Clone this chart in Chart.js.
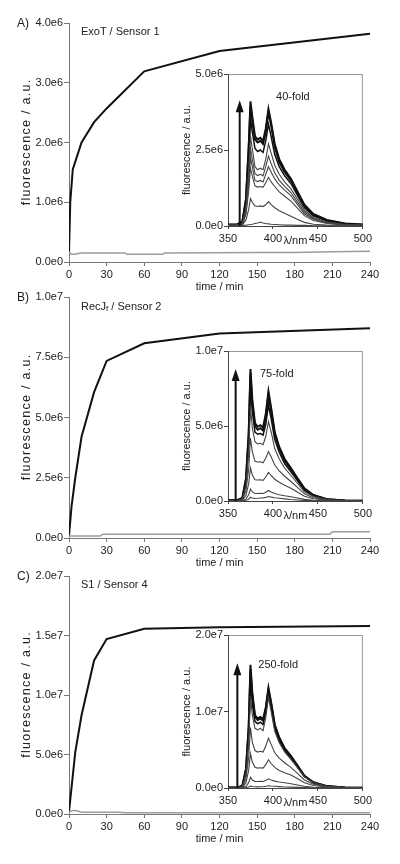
<!DOCTYPE html>
<html>
<head>
<meta charset="utf-8">
<script src="https://cdn.jsdelivr.net/npm/chart.js@4.4.1/dist/chart.umd.min.js"></script>
<style>
  body { margin: 0; background: #fff; }
  #page { position: relative; width: 400px; height: 864px; overflow: hidden;
          font-family: 'Liberation Sans', Arial, Helvetica, sans-serif; color: #222; }
  canvas { position: absolute; }
  .lbl { position: absolute; font-size: 12px; line-height: 14px; white-space: nowrap; }
  .ttl { position: absolute; font-size: 11px; line-height: 13px; white-space: nowrap; }
  .sub { font-size: 8px; vertical-align: -1px; }
</style>
</head>
<body>
<div id="page">
  <canvas id="mainA" width="400" height="291" style="left:0;top:3px"></canvas>
  <canvas id="mainB" width="400" height="293" style="left:0;top:277px"></canvas>
  <canvas id="mainC" width="400" height="290" style="left:0;top:556px"></canvas>
  <canvas id="insetA" width="215" height="192" style="left:160px;top:62px"></canvas>
  <canvas id="insetB" width="215" height="190" style="left:160px;top:339px"></canvas>
  <canvas id="insetC" width="215" height="193" style="left:160px;top:623px"></canvas>

  <div class="lbl" style="left:17px;top:16px">A)</div>
  <div class="ttl" style="left:81px;top:25px">ExoT / Sensor 1</div>
  <div class="lbl" style="left:17px;top:290px">B)</div>
  <div class="ttl" style="left:81px;top:300px">RecJ<span class="sub">f</span> / Sensor 2</div>
  <div class="lbl" style="left:17px;top:569px">C)</div>
  <div class="ttl" style="left:81px;top:578px">S1 / Sensor 4</div>
</div>

<script>
// all fluorescence values are in units of 1e6 a.u.

const timeTicks = [0, 30, 60, 90, 120, 150, 180, 210, 240];
const wlTicks = [350, 400, 450, 500];

// --- main kinetics ---
const timeA = [0, 1, 3, 10, 20, 30, 60, 120, 240];
const exoT = [0.15, 1.0, 1.55, 2.0, 2.34, 2.57, 3.19, 3.53, 3.82];
const ctrlTimeA = [0, 2, 4, 10, 45, 46, 75, 76, 150, 180, 210, 240];
const ctrlA = [0.17, 0.13, 0.13, 0.15, 0.15, 0.13, 0.13, 0.15, 0.16, 0.16, 0.17, 0.18];
const ticksA = [0, 1, 2, 3, 4];

const timeB = [0, 2, 5, 10, 20, 30, 60, 120, 240];
const recJ = [0.1, 1.3, 2.5, 4.2, 6.05, 7.35, 8.08, 8.49, 8.7];
const ctrlTimeB = [0, 25, 27, 208, 210, 240];
const ctrlB = [0.08, 0.08, 0.16, 0.16, 0.26, 0.26];
const ticksB = [0, 2.5, 5, 7.5, 10];

const timeC = [0, 5, 10, 20, 30, 60, 120, 240];
const s1 = [0.2, 5.2, 8.3, 12.9, 14.7, 15.57, 15.7, 15.8];
const ctrlTimeC = [0, 3, 6, 10, 40, 45, 240];
const ctrlC = [0.15, 0.3, 0.28, 0.15, 0.15, 0.1, 0.1];
const ticksC = [0, 5, 10, 15, 20];

// --- emission spectra (insets), top curve first ---
const wavelength = [350, 360, 366, 370, 373, 375, 377, 380, 383, 386, 389, 392,
                    395, 398, 402, 407, 413, 420, 427, 435, 445, 460, 480, 500];

const spectraA = [
  [0.05,0.05,0.15,0.9,2.6,4.1,3.6,2.95,2.85,2.9,2.8,3.2,3.85,3.4,2.7,2.2,1.85,1.55,1.15,0.7,0.4,0.2,0.08,0.05],
  [0.04,0.04,0.12,0.85,2.5,3.95,3.5,2.85,2.75,2.8,2.7,3.1,3.75,3.3,2.6,2.1,1.78,1.5,1.1,0.66,0.37,0.18,0.07,0.04],
  [0.03,0.03,0.1,0.75,2.2,3.55,3.1,2.55,2.45,2.5,2.42,2.8,3.35,2.95,2.35,1.95,1.65,1.4,1.02,0.6,0.33,0.16,0.06,0.03],
  [0.03,0.03,0.08,0.6,1.8,2.95,2.55,1.95,1.85,1.9,1.85,2.2,2.7,2.4,2.0,1.7,1.45,1.22,0.9,0.52,0.28,0.13,0.05,0.03],
  [0.02,0.02,0.07,0.5,1.55,2.55,2.2,1.72,1.66,1.7,1.65,1.95,2.3,2.05,1.75,1.5,1.3,1.1,0.8,0.46,0.25,0.11,0.04,0.02],
  [0.02,0.02,0.06,0.45,1.35,2.25,1.95,1.5,1.46,1.5,1.45,1.7,1.95,1.78,1.55,1.35,1.18,1.0,0.72,0.4,0.22,0.1,0.04,0.02],
  [0.02,0.02,0.05,0.38,1.15,1.9,1.65,1.32,1.28,1.3,1.27,1.42,1.6,1.45,1.3,1.12,0.98,0.82,0.6,0.34,0.18,0.08,0.03,0.02],
  [0.01,0.01,0.03,0.2,0.55,0.9,0.78,0.66,0.64,0.66,0.64,0.7,0.8,0.7,0.6,0.5,0.42,0.32,0.22,0.12,0.06,0.03,0.02,0.01],
  [0.01,0.01,0.02,0.03,0.04,0.05,0.06,0.08,0.1,0.13,0.1,0.08,0.07,0.06,0.05,0.04,0.03,0.03,0.02,0.02,0.01,0.01,0.01,0.01]
];
const spectraB = [
  [0.05,0.05,0.2,1.5,4.5,8.8,6.8,5.2,4.95,5.05,4.9,5.8,7.3,6.2,4.6,3.6,2.8,2.2,1.55,0.85,0.4,0.12,0.04,0.02],
  [0.04,0.04,0.18,1.4,4.3,8.5,6.5,5.0,4.75,4.85,4.7,5.6,7.1,6.0,4.45,3.5,2.7,2.12,1.5,0.8,0.38,0.11,0.04,0.02],
  [0.04,0.04,0.16,1.25,3.9,7.8,6.0,4.6,4.45,4.5,4.4,5.1,6.4,5.5,4.1,3.25,2.5,1.95,1.38,0.72,0.34,0.1,0.03,0.02],
  [0.03,0.03,0.13,1.0,3.2,6.3,4.9,3.95,3.8,3.85,3.75,4.3,5.3,4.6,3.5,2.8,2.2,1.7,1.2,0.62,0.3,0.09,0.03,0.02],
  [0.02,0.02,0.09,0.7,2.1,4.2,3.3,2.65,2.6,2.62,2.55,2.85,3.3,2.95,2.4,2.0,1.65,1.3,0.92,0.48,0.22,0.07,0.02,0.01],
  [0.02,0.02,0.05,0.38,1.15,2.2,1.75,1.42,1.4,1.42,1.38,1.6,1.9,1.7,1.45,1.25,1.05,0.85,0.6,0.32,0.15,0.05,0.02,0.01],
  [0.01,0.01,0.02,0.14,0.42,0.8,0.62,0.5,0.5,0.52,0.5,0.58,0.7,0.6,0.5,0.42,0.35,0.28,0.2,0.11,0.05,0.02,0.01,0.01],
  [0.01,0.01,0.01,0.05,0.12,0.25,0.2,0.17,0.18,0.2,0.2,0.24,0.3,0.26,0.22,0.18,0.14,0.1,0.07,0.04,0.02,0.01,0.01,0.01]
];
const spectraC = [
  [0.05,0.05,0.3,2.5,8.0,16.1,12.5,9.5,9.1,9.3,9.0,10.5,13.1,11.2,8.3,6.6,5.2,4.2,3.0,1.6,0.75,0.25,0.08,0.04],
  [0.05,0.05,0.28,2.4,7.7,15.5,12.1,9.3,8.9,9.1,8.8,10.3,12.8,11.0,8.1,6.5,5.1,4.1,2.9,1.55,0.72,0.24,0.08,0.04],
  [0.04,0.04,0.25,2.1,7.0,14.0,11.0,8.7,8.4,8.6,8.3,9.9,12.3,10.5,7.8,6.2,4.9,3.9,2.8,1.5,0.7,0.23,0.07,0.03],
  [0.04,0.04,0.2,1.8,6.0,12.0,9.6,7.8,7.6,7.8,7.5,9.2,11.8,10.0,7.4,5.9,4.7,3.75,2.7,1.45,0.68,0.22,0.07,0.03],
  [0.03,0.03,0.14,1.2,4.0,7.9,6.0,4.9,4.7,4.8,4.7,5.5,6.5,5.7,4.6,3.9,3.3,2.7,1.95,1.05,0.5,0.17,0.05,0.02],
  [0.02,0.02,0.08,0.7,2.3,4.5,3.4,2.7,2.6,2.65,2.6,3.05,3.7,3.2,2.7,2.3,2.0,1.7,1.25,0.68,0.32,0.11,0.03,0.02],
  [0.01,0.01,0.03,0.22,0.7,1.4,1.05,0.87,0.85,0.87,0.85,0.98,1.2,1.05,0.9,0.78,0.68,0.55,0.4,0.22,0.1,0.04,0.01,0.01],
  [0.01,0.01,0.01,0.05,0.12,0.25,0.2,0.16,0.15,0.17,0.17,0.22,0.3,0.26,0.22,0.18,0.14,0.11,0.08,0.05,0.02,0.01,0.01,0.01]
];
const insetTicksA = [0, 2.5, 5];
const insetTicksB = [0, 5, 10];
const insetTicksC = [0, 10, 20];


const FONT = "'Liberation Sans', Arial, Helvetica, sans-serif";
Chart.defaults.font.family = FONT;
Chart.defaults.font.size = 11;
Chart.defaults.color = '#222';
Chart.defaults.animation = false;

const sci = (v) => (v * 1e6).toExponential(1).replace('e+', 'e');

const pts = (xs, ys) => xs.map((x, i) => ({ x: x, y: ys[i] }));

const fixTicks = (list) => (scale) => {
    scale.ticks = list.map(v => ({ value: v }));
};

// stretched vertical title of the main panels
const sideTitle = {
    id: 'sideTitle',
    afterDraw(chart, args, opts) {
        const a = chart.chartArea, ctx = chart.ctx;
        ctx.save();
        ctx.translate(opts.x, (a.top + a.bottom) / 2);
        ctx.rotate(-Math.PI / 2);
        ctx.font = opts.size + 'px ' + FONT;
        ctx.letterSpacing = opts.spacing + 'px';
        ctx.textAlign = 'center';
        ctx.textBaseline = 'middle';
        ctx.fillStyle = '#222';
        ctx.fillText(opts.text, opts.spacing / 2, 0);
        ctx.restore();
    }
};

function mainChart(id, t1, v1, t2, v2, yTicks) {
    return new Chart(document.getElementById(id), {
        type: 'line',
        data: {
            datasets: [
                { data: pts(t2, v2), borderColor: '#9c9c9c', borderWidth: 1.5, pointRadius: 0 },
                { data: pts(t1, v1), borderColor: '#111', borderWidth: 2, pointRadius: 0 }
            ]
        },
        options: {
            responsive: false,
            devicePixelRatio: 1,
            layout: { padding: { top: 20, right: 30, left: 0, bottom: 0 } },
            plugins: {
                legend: { display: false },
                tooltip: { enabled: false },
                sideTitle: { text: 'fluorescence / a.u.', x: 26.5, size: 12.5, spacing: 1.3 }
            },
            scales: {
                x: {
                    type: 'linear', min: 0, max: 240,
                    afterBuildTicks: fixTicks(timeTicks),
                    afterFit: s => { s.height = 32; },
                    grid: { drawOnChartArea: false, tickLength: 4, color: '#777' },
                    border: { color: '#777' },
                    ticks: { padding: 2, maxRotation: 0 },
                    title: { display: true, text: 'time / min', padding: 0 }
                },
                y: {
                    min: 0, max: yTicks[yTicks.length - 1],
                    afterBuildTicks: fixTicks(yTicks),
                    afterFit: s => { s.width = 69; },
                    grid: { drawOnChartArea: false, tickLength: 5, color: '#777' },
                    border: { color: '#777' },
                    ticks: { padding: 1, callback: v => sci(v) }
                }
            }
        },
        plugins: [sideTitle]
    });
}

// white box + frame, growth arrow, fold label and unit label
const insetDecor = {
    id: 'insetDecor',
    beforeDraw(chart) {
        const a = chart.chartArea, ctx = chart.ctx;
        ctx.save();
        ctx.fillStyle = '#fff';
        ctx.fillRect(a.left, a.top, a.right - a.left, a.bottom - a.top);
        ctx.strokeStyle = '#999';
        ctx.lineWidth = 1;
        ctx.strokeRect(a.left + 0.5, a.top + 0.5, a.right - a.left - 1, a.bottom - a.top);
        ctx.restore();
    },
    afterDatasetsDraw(chart, args, opts) {
        const x = chart.scales.x, y = chart.scales.y, ctx = chart.ctx;
        const ax = x.getPixelForValue(opts.arrowX);
        const y0 = y.getPixelForValue(0);
        const y1 = y.getPixelForValue(opts.arrowTop);
        ctx.save();
        ctx.strokeStyle = '#111';
        ctx.fillStyle = '#111';
        ctx.lineWidth = 2;
        ctx.beginPath();
        ctx.moveTo(ax, y0);
        ctx.lineTo(ax, y1 + 10);
        ctx.stroke();
        ctx.beginPath();
        ctx.moveTo(ax, y1);
        ctx.lineTo(ax - 4, y1 + 12);
        ctx.lineTo(ax + 4, y1 + 12);
        ctx.closePath();
        ctx.fill();

        ctx.fillStyle = '#222';
        ctx.font = '11px ' + FONT;
        ctx.textBaseline = 'middle';
        ctx.textAlign = 'left';
        ctx.fillText(opts.label, x.getPixelForValue(opts.labelX), y.getPixelForValue(opts.labelY));
        ctx.textAlign = 'center';
        ctx.fillText('\u03bb/nm', x.getPixelForValue(opts.unitX), y0 + 15);
        ctx.restore();
    }
};

function insetChart(id, spectra, yTicks, deco) {
    const datasets = spectra.map((s, i) => ({
        data: pts(wavelength, s),
        borderColor: i < 3 ? '#111' : '#444',
        borderWidth: i < 2 ? 2 : (i < 3 ? 1.5 : 1.1),
        pointRadius: 0,
        order: -i
    }));
    return new Chart(document.getElementById(id), {
        type: 'line',
        data: { datasets: datasets },
        options: {
            responsive: false,
            devicePixelRatio: 1,
            layout: { padding: { top: 12, right: 12, left: 0, bottom: 0 } },
            plugins: { legend: { display: false }, tooltip: { enabled: false }, insetDecor: deco },
            scales: {
                x: {
                    type: 'linear', min: 350, max: 500,
                    afterBuildTicks: fixTicks(wlTicks),
                    afterFit: s => { s.height = 28; },
                    grid: { drawOnChartArea: false, tickLength: 3, color: '#444' },
                    border: { color: '#444' },
                    ticks: { padding: 3, maxRotation: 0 }
                },
                y: {
                    min: 0, max: yTicks[yTicks.length - 1],
                    afterBuildTicks: fixTicks(yTicks),
                    afterFit: s => { s.width = 68; },
                    grid: { drawOnChartArea: false, tickLength: 4, color: '#444' },
                    border: { color: '#444' },
                    ticks: { padding: 1, callback: v => sci(v) },
                    title: {
                        display: true, text: 'fluorescence / a.u.',
                        padding: { top: 20, bottom: 0 }
                    }
                }
            }
        },
        plugins: [insetDecor]
    });
}

mainChart('mainA', timeA, exoT, ctrlTimeA, ctrlA, ticksA);
mainChart('mainB', timeB, recJ, ctrlTimeB, ctrlB, ticksB);
mainChart('mainC', timeC, s1, ctrlTimeC, ctrlC, ticksC);

insetChart('insetA', spectraA, insetTicksA,
    { arrowX: 363, arrowTop: 4.14, label: '40-fold', labelX: 403.5, labelY: 4.25, unitX: 425 });
insetChart('insetB', spectraB, insetTicksB,
    { arrowX: 358.5, arrowTop: 8.8, label: '75-fold', labelX: 385.5, labelY: 8.5, unitX: 425 });
insetChart('insetC', spectraC, insetTicksC,
    { arrowX: 360.4, arrowTop: 16.3, label: '250-fold', labelX: 383.7, labelY: 16.1, unitX: 425 });
</script>
</body>
</html>
